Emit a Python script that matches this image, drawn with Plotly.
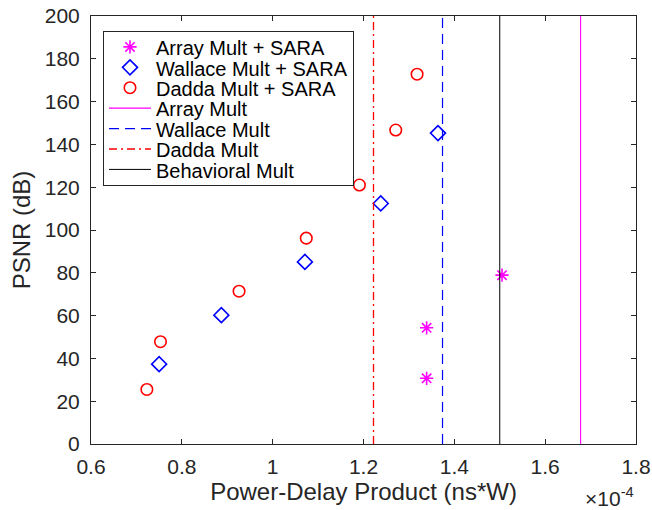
import plotly.graph_objects as go

# Data (x in units of 1e-4 ns*W)
array_x = [1.339, 1.339, 1.505]
array_y = [30.7, 54.3, 78.9]
wallace_x = [0.750, 0.887, 1.071, 1.238, 1.364]
wallace_y = [37.3, 60.2, 85.1, 112.4, 145.3]
dadda_x = [0.723, 0.753, 0.926, 1.074, 1.191, 1.271, 1.318]
dadda_y = [25.5, 47.8, 71.4, 96.2, 121.0, 146.7, 172.8]
array_line = 1.678
wallace_line = 1.374
dadda_line = 1.222
behav_line = 1.5
y_span = [0, 200]
x_ticks = [0.6, 0.8, 1.0, 1.2, 1.4, 1.6, 1.8]
x_ticklabels = ["0.6", "0.8", "1", "1.2", "1.4", "1.6", "1.8"]
y_ticks = [0, 20, 40, 60, 80, 100, 120, 140, 160, 180, 200]
legend_labels = ["Array Mult + SARA", "Wallace Mult + SARA", "Dadda Mult + SARA",
                 "Array Mult", "Wallace Mult", "Dadda Mult", "Behavioral Mult"]

FONT = "Liberation Sans, Arial, sans-serif"
TXT = "#262626"


def lab(s):
    return '<span style="font-size:20px;baseline-shift:-3px">' + s + '</span>'


fig = go.Figure()
fig.add_trace(go.Scatter(x=array_x, y=array_y, mode="markers", name=lab(legend_labels[0]),
                         marker=dict(symbol="asterisk-open", size=11, color="#ff00ff",
                                     line=dict(color="#ff00ff", width=1.6))))
fig.add_trace(go.Scatter(x=wallace_x, y=wallace_y, mode="markers", name=lab(legend_labels[1]),
                         marker=dict(symbol="diamond-open", size=11.5, color="#0000ff",
                                     line=dict(color="#0000ff", width=1.6))))
fig.add_trace(go.Scatter(x=dadda_x, y=dadda_y, mode="markers", name=lab(legend_labels[2]),
                         marker=dict(symbol="circle-open", size=11.5, color="#ff0000",
                                     line=dict(color="#ff0000", width=1.6))))
fig.add_trace(go.Scatter(x=[array_line] * 2, y=y_span, mode="lines", name=lab(legend_labels[3]),
                         line=dict(color="#ff00ff", width=1.1)))
fig.add_trace(go.Scatter(x=[wallace_line] * 2, y=y_span, mode="lines", name=lab(legend_labels[4]),
                         line=dict(color="#0000ff", width=1.2, dash="10px,6px")))
fig.add_trace(go.Scatter(x=[dadda_line] * 2, y=y_span, mode="lines", name=lab(legend_labels[5]),
                         line=dict(color="#ff0000", width=1.3, dash="8px,4px,2px,4px")))
fig.add_trace(go.Scatter(x=[behav_line] * 2, y=y_span, mode="lines", name=lab(legend_labels[6]),
                         line=dict(color="#000000", width=1)))

axis_common = dict(showline=True, linecolor=TXT, linewidth=1, mirror="ticks",
                   ticks="inside", ticklen=5, tickcolor=TXT, showgrid=False,
                   zeroline=False, automargin=False,
                   tickfont=dict(family=FONT, size=21, color=TXT))
fig.update_xaxes(range=[0.6, 1.8], tickvals=x_ticks, ticktext=x_ticklabels,
                 ticklabelstandoff=4,
                 title=dict(text="Power-Delay Product (ns*W)", standoff=1,
                            font=dict(family=FONT, size=24, color=TXT)),
                 **axis_common)
fig.update_yaxes(range=[0, 200], tickvals=y_ticks, ticklabelstandoff=6,
                 title=dict(text="PSNR (dB)", standoff=7,
                            font=dict(family=FONT, size=24, color=TXT)),
                 **axis_common)

fig.add_annotation(xref="paper", yref="paper", x=1.0, y=-0.088, xanchor="right", yanchor="top",
                   text="×10<sup>-4</sup>", showarrow=False,
                   font=dict(family=FONT, size=21, color=TXT))

fig.update_layout(
    width=652, height=510,
    margin=dict(l=91, r=16, t=16, b=66),
    paper_bgcolor="white", plot_bgcolor="white",
    showlegend=True,
    legend=dict(x=0.022, y=0.9657, xanchor="left", yanchor="top",
                bgcolor="white", bordercolor=TXT, borderwidth=1,
                font=dict(family=FONT, size=13.4, color="#000000"),
                tracegroupgap=0, itemwidth=42),
)
fig.write_html("out.html")
